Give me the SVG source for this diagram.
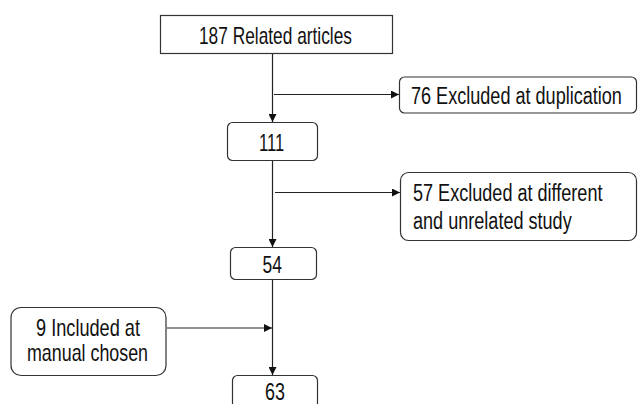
<svg xmlns="http://www.w3.org/2000/svg" width="638" height="404" viewBox="0 0 638 404">
<style>
.box{fill:#fff;stroke:#333;stroke-width:1.2}
.t{font-family:"Liberation Sans",Arial,sans-serif;font-size:23px;fill:#111}
.c{fill:none;stroke:#222;stroke-width:1.2}
</style>
<defs>
<marker id="ah" viewBox="0 0 10 10" refX="10" refY="5" markerWidth="8" markerHeight="8" markerUnits="userSpaceOnUse" orient="auto">
<path d="M0,0 L10,5 L0,10 z" fill="#111"/>
</marker>
</defs>
<rect width="638" height="404" fill="#fff"/>
<g id="connectors">
<line class="c" x1="272.5" y1="53" x2="272.5" y2="122" marker-end="url(#ah)"/>
<line class="c" x1="274" y1="94.5" x2="399" y2="94.5" marker-end="url(#ah)"/>
<line class="c" x1="272.5" y1="160" x2="272.5" y2="247" marker-end="url(#ah)"/>
<line class="c" x1="275" y1="192.5" x2="400" y2="192.5" marker-end="url(#ah)"/>
<line class="c" x1="272.5" y1="280" x2="272.5" y2="375" marker-end="url(#ah)"/>
<line class="c" x1="167" y1="328" x2="272" y2="328" marker-end="url(#ah)"/>
</g>
<g id="n187">
<rect class="box" x="160.5" y="15.5" width="232" height="38"/>
<text class="t" transform="translate(199 43.5) scale(0.753 1)">187 Related articles</text>
</g>
<g id="n76">
<rect class="box" x="399.5" y="77" width="237" height="36" rx="5"/>
<text class="t" transform="translate(411 104) scale(0.786 1)">76 Excluded at duplication</text>
</g>
<g id="n111">
<rect class="box" x="227.5" y="122.5" width="90" height="38" rx="5"/>
<text class="t" transform="translate(259 151) scale(0.72 1)">111</text>
</g>
<g id="n57">
<rect class="box" x="400.5" y="172.5" width="236" height="68" rx="8"/>
<text class="t" transform="translate(413 201) scale(0.786 1)">57 Excluded at different</text>
<text class="t" transform="translate(413 229) scale(0.786 1)">and unrelated study</text>
</g>
<g id="n54">
<rect class="box" x="230.5" y="247.5" width="86" height="32" rx="5"/>
<text class="t" transform="translate(262.5 273) scale(0.76 1)">54</text>
</g>
<g id="n9">
<rect class="box" x="11" y="307.5" width="155" height="68" rx="10"/>
<text class="t" transform="translate(36 336) scale(0.79 1)">9 Included at</text>
<text class="t" transform="translate(27 361) scale(0.776 1)">manual chosen</text>
</g>
<g id="n63">
<rect class="box" x="232.5" y="375.5" width="85" height="40" rx="5"/>
<text class="t" transform="translate(265 400) scale(0.78 1)">63</text>
</g>
</svg>
